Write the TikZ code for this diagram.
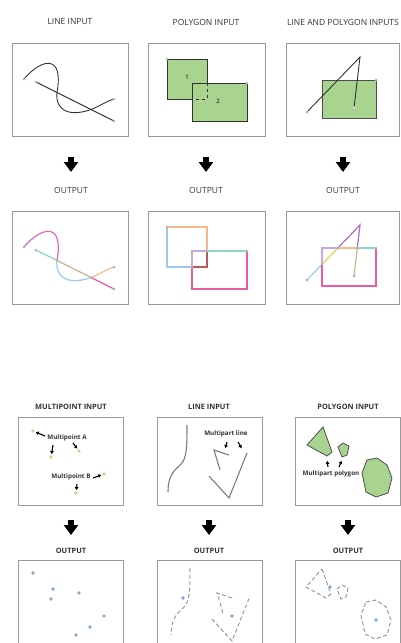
\documentclass[tikz,border=0pt]{standalone}
\usepackage{fontspec}
\setmainfont{Open Sans}
\usetikzlibrary{arrows.meta}

\definecolor{framegray}{HTML}{9A9A9A}
\definecolor{titlegray}{HTML}{333333}
\definecolor{dotgray}{HTML}{B4B4B4}
\definecolor{linegray}{HTML}{7C7C7C}
\definecolor{polygreen}{HTML}{A9D48F}
\definecolor{ptgreen}{HTML}{BCDB94}
\definecolor{ptblue}{HTML}{7CA6E0}
\definecolor{segmagenta}{HTML}{D36AC2}
\definecolor{segteal}{HTML}{8FD6C4}
\definecolor{segtan}{HTML}{C8B496}
\definecolor{segblue}{HTML}{9CC8EE}
\definecolor{segorange}{HTML}{F5B88A}
\definecolor{segpink}{HTML}{EE5AA0}
\definecolor{seglav}{HTML}{C8A8E0}
\definecolor{segred}{HTML}{B85A5A}
\definecolor{segyellow}{HTML}{C8DC5A}
\definecolor{segpurple}{HTML}{B06CC0}

\tikzset{
  frame/.style={draw=framegray, line width=0.9pt},
  title/.style={font=\fontsize{8.5}{10}\selectfont, text=titlegray, inner sep=0pt},
  btitle/.style={font=\bfseries\fontsize{7.4}{9}\selectfont, text=titlegray, inner sep=0pt},
  tag/.style={font=\bfseries\fontsize{6.3}{7.5}\selectfont, text=titlegray, inner sep=0.5pt},
  bigarrow/.style={line width=5.5pt, -{Triangle[length=10pt,width=14pt]}},
  callout/.style={line width=1.1pt, -{Triangle[length=3pt,width=3.6pt]}, shorten >=1pt},
  inline/.style={draw=black!80, line width=0.9pt},
  seg/.style={line width=1.2pt},
  vtx/.style={circle, fill=dotgray, inner sep=0pt, minimum size=3pt},
  gpt/.style={circle, fill=ptgreen, inner sep=0pt, minimum size=3.6pt},
  kpt/.style={circle, fill=dotgray!90!black, inner sep=0pt, minimum size=3.6pt},
  bpt/.style={circle, fill=ptblue, inner sep=0pt, minimum size=3.6pt},
  gline/.style={draw=linegray, line width=1.1pt},
  dline/.style={draw=dotgray!85!black, line width=1pt, dash pattern=on 4pt off 2.5pt},
  poly/.style={fill=polygreen, draw=black!70, line width=0.8pt}
}

\begin{document}
\begin{tikzpicture}[x=1pt, y=-1pt]
    \useasboundingbox (0,0) rectangle (401,643);
    \clip (0,0) rectangle (401,643);

    % --- TOP: TITLES ---
    \node[title] (t1) at (70,22) {LINE INPUT};
    \node[title] (t2) at (206,22) {POLYGON INPUT};
    \node[title] (t3) at (343,22) {LINE AND POLYGON INPUTS};

    \draw[frame] (12,43) rectangle (128,136);
    \draw[frame] (148,43) rectangle (265,136);
    \draw[frame] (286,43) rectangle (399,136);

    % line input
    \draw[inline] (24,79) .. controls (42,58) and (64,54) .. (57,92.5)
        .. controls (55,111) and (70,117) .. (91,109.5)
        .. controls (100,106) and (107,101) .. (114,99);
    \draw[inline] (36,82) -- (114,121);
    \foreach \p in {(24,79),(36,82),(114,99),(114,121)}
        \fill[dotgray] \p circle (1.5);

    % polygon input
    \fill[polygreen] (167,59) rectangle (207,99);
    \fill[polygreen] (192,83) rectangle (247,121);
    \draw[inline] (192,99) -- (167,99) -- (167,59) -- (207,59) -- (207,83);
    \draw[inline, dashed] (207,83) -- (207,99) -- (192,99);
    \draw[inline] (192,83) rectangle (247,121);
    \node[font=\fontsize{6}{7}\selectfont] (n1) at (187,77) {1};
    \node[font=\fontsize{6}{7}\selectfont] (n2) at (218,101) {2};
    \fill[dotgray] (167,59) circle (1.5);
    \fill[dotgray] (247,83) circle (1.5);

    % line and polygon input
    \draw[poly] (322,80) rectangle (376,118);
    \draw[inline] (307,112) -- (360,57) -- (354,108);
    \fill[dotgray] (307,112) circle (1.5);
    \fill[dotgray] (376,80) circle (1.5);
    \draw[dotgray, fill=white, line width=0.8pt] (354,108) circle (1.8);

    % --- TOP: ARROWS ---
    \foreach \x [count=\i] in {71,206,343} {
        \coordinate (as\i) at (\x,157);
        \coordinate (ae\i) at (\x,172);
        \draw[bigarrow] (as\i) -- (ae\i);
    }

    \node[title] (o1) at (71,190) {OUTPUT};
    \node[title] (o2) at (206,190) {OUTPUT};
    \node[title] (o3) at (343,190) {OUTPUT};

    \draw[frame] (12,211) rectangle (128,304);
    \draw[frame] (148,211) rectangle (265,304);
    \draw[frame] (286,211) rectangle (399,304);

    \begin{scope}[shift={(0,168)}]
        % line output
        \draw[seg, segmagenta] (24,79) .. controls (42,58) and (64,54) .. (57,92.5);
        \draw[seg, segteal] (36,82) -- (57,92.5);
        \draw[seg, segtan] (57,92.5) -- (91,109.5);
        \draw[seg, segblue] (57,92.5) .. controls (55,111) and (70,117) .. (91,109.5);
        \draw[seg, segorange] (91,109.5) .. controls (100,106) and (107,101) .. (114,99);
        \draw[seg, segpink] (91,109.5) -- (114,121);
        \foreach \p in {(24,79),(36,82),(57,92.5),(91,109.5),(114,99),(114,121)}
            \fill[dotgray] \p circle (1.5);

        % polygon output
        \draw[seg, segorange] (167,59) -- (207,59) -- (207,83);
        \draw[seg, segblue] (167,59) -- (167,99) -- (192,99);
        \draw[seg, seglav] (192,99) -- (192,83) -- (207,83);
        \draw[seg, segred] (207,83) -- (207,99) -- (192,99);
        \draw[seg, segteal] (207,83) -- (247,83);
        \draw[seg, segpink] (247,83) -- (247,121) -- (192,121) -- (192,99);
        \foreach \p in {(167,59),(207,83),(192,99),(247,83)}
            \fill[dotgray] \p circle (1.5);

        % line and polygon output
        \draw[seg, segblue] (307,112) -- (322,96.4);
        \draw[seg, segyellow] (322,96.4) -- (337.8,80);
        \draw[seg, segpurple] (337.8,80) -- (360,57) -- (357.3,80);
        \draw[seg, segtan] (357.3,80) -- (354,108);
        \draw[seg, seglav] (322,96.4) -- (322,80) -- (337.8,80);
        \draw[seg, segorange] (337.8,80) -- (357.3,80);
        \draw[seg, segteal] (357.3,80) -- (376,80);
        \draw[seg, segpink] (376,80) -- (376,118) -- (322,118) -- (322,96.4);
        \foreach \p in {(307,112),(322,96.4),(337.8,80),(357.3,80),(376,80),(354,108)}
            \fill[dotgray] \p circle (1.5);
    \end{scope}

    % --- BOTTOM: TITLES ---
    \node[btitle] (b1) at (71,407) {MULTIPOINT INPUT};
    \node[btitle] (b2) at (209,407) {LINE INPUT};
    \node[btitle] (b3) at (348,407) {POLYGON INPUT};

    \draw[frame] (18,417) rectangle (123,505);
    \draw[frame] (157,417) rectangle (262,505);
    \draw[frame] (295,417) rectangle (400,505);

    % multipoint input
    \node[gpt] (pa1) at (33,431) {};
    \node[gpt] (pa2) at (51,457) {};
    \node[gpt] (pa3) at (79,451) {};
    \node[gpt] (pb1) at (104,474) {};
    \node[gpt] (pb2) at (76,493) {};
    \node[tag] (mpA) at (67,438) {Multipoint A};
    \node[tag] (mpB) at (71,477) {Multipoint B};
    \coordinate (ca1) at (45,436);
    \coordinate (ca2) at (53,445);
    \coordinate (ca3) at (73,443);
    \coordinate (cb1) at (93,478);
    \coordinate (cb2) at (77,484);
    \draw[callout] (ca1) -- (pa1);
    \draw[callout] (ca2) -- (pa2);
    \draw[callout] (ca3) -- (pa3);
    \draw[callout] (cb1) -- (pb1);
    \draw[callout] (cb2) -- (pb2);

    % line input
    \draw[gline] (187,425) .. controls (187,455) and (186,460) .. (178,467)
        .. controls (170,474) and (168,482) .. (168,492);
    \draw[gline] (229,455) -- (214,450) -- (220,470);
    \draw[gline] (209,476) -- (229,498) -- (247,453);
    \node[tag] (mpl) at (226,434) {Multipart line};
    \coordinate (cl1) at (227,442);
    \coordinate (cl2) at (225,449);
    \coordinate (cl3) at (238,442);
    \coordinate (cl4) at (242,449);
    \draw[callout] (cl1) -- (cl2);
    \draw[callout] (cl3) -- (cl4);

    % polygon input
    \draw[poly] (323,427) -- (332,452) -- (327,456) -- (307,445) -- cycle;
    \draw[poly] (338,447) -- (343,443) -- (349,446) -- (347,455) -- (342,457) -- cycle;
    \draw[poly] (367,460) -- (377,458) -- (387,465) -- (392,478) -- (388,493)
        -- (376,497) -- (366,492) -- (362,473) -- cycle;
    \node[tag] (mpp) at (331,474) {Multipart polygon};
    \coordinate (cp1) at (328,467);
    \coordinate (cp2) at (327,460);
    \coordinate (cp3) at (339,467);
    \coordinate (cp4) at (342,460);
    \draw[callout] (cp1) -- (cp2);
    \draw[callout] (cp3) -- (cp4);

    % --- BOTTOM: ARROWS ---
    \foreach \x [count=\i] in {71,209,348} {
        \coordinate (bs\i) at (\x,520);
        \coordinate (be\i) at (\x,535);
        \draw[bigarrow] (bs\i) -- (be\i);
    }

    \node[btitle] (p1) at (71,551) {OUTPUT};
    \node[btitle] (p2) at (209,551) {OUTPUT};
    \node[btitle] (p3) at (348,551) {OUTPUT};

    \draw[frame] (18,560) rectangle (123,660);
    \draw[frame] (157,560) rectangle (262,660);
    \draw[frame] (295,560) rectangle (400,660);

    % multipoint output
    \begin{scope}[shift={(0,142)}]
        \foreach \p in {(33,431),(51,457),(79,451),(104,474),(76,493)}
            \node[kpt] at \p {};
        \node[bpt] (qa) at (53,447) {};
        \node[bpt] (qb) at (90,485) {};
    \end{scope}

    % line output
    \begin{scope}[shift={(3,143)}]
        \draw[dline] (187,425) .. controls (187,455) and (186,460) .. (178,467)
            .. controls (170,474) and (168,482) .. (168,492);
        \draw[dline] (229,455) -- (214,450) -- (220,470);
        \draw[dline] (209,476) -- (229,498) -- (247,453);
    \end{scope}
    \node[bpt] (ql1) at (183,598) {};
    \node[bpt] (ql2) at (232,616) {};

    % polygon output
    \begin{scope}[shift={(-1,142)}]
        \draw[dline] (323,427) -- (332,452) -- (327,456) -- (307,445) -- cycle;
        \draw[dline] (338,447) -- (343,443) -- (349,446) -- (347,455) -- (342,457) -- cycle;
        \draw[dline] (367,460) -- (377,458) -- (387,465) -- (392,478) -- (388,493)
            -- (376,497) -- (366,492) -- (362,473) -- cycle;
    \end{scope}
    \node[bpt] (qp1) at (330,587) {};
    \node[bpt] (qp2) at (376,620) {};

\end{tikzpicture}
\end{document}
